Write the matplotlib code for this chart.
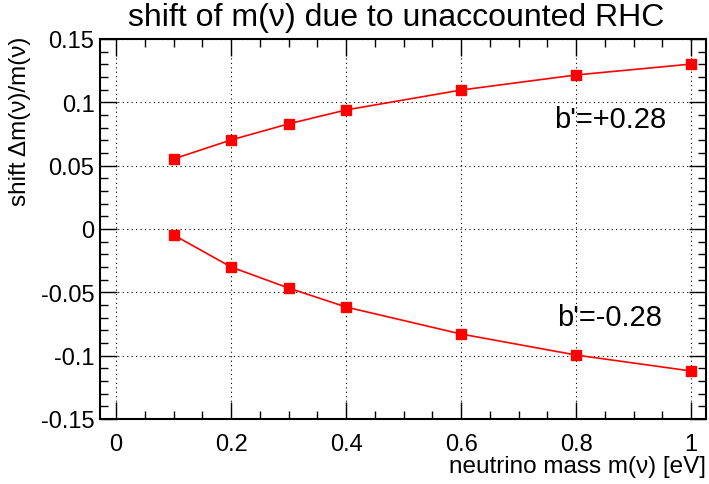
import matplotlib
matplotlib.use("Agg")
import matplotlib.pyplot as plt
from matplotlib.ticker import MultipleLocator

plt.rcParams['font.family'] = ['Liberation Sans', 'DejaVu Sans']

# neutrino mass [eV]
mass = [0.1, 0.2, 0.3, 0.4, 0.6, 0.8, 1.0]
# relative shift for b'=+0.28 and b'=-0.28
shift_pos = [0.0553, 0.0703, 0.0830, 0.0940, 0.1097, 0.1216, 0.1302]
shift_neg = [-0.0047, -0.0300, -0.0466, -0.0616, -0.0829, -0.0995, -0.1121]

fig = plt.figure(figsize=(7.09, 4.85), dpi=100)
ax = fig.add_axes([100/709, 1-420/485, 606/709, 380/485])

ax.plot(mass, shift_pos, color='red', lw=1.2, marker='s', ms=7.5, mec='red', mfc='red')
ax.plot(mass, shift_neg, color='red', lw=1.2, marker='s', ms=7.5, mec='red', mfc='red')

ax.set_xlim(-0.028, 1.026)
ax.set_ylim(-0.15, 0.15)
ax.xaxis.set_minor_locator(MultipleLocator(0.05))
ax.yaxis.set_minor_locator(MultipleLocator(0.01))
ax.set_xticks([0, 0.2, 0.4, 0.6, 0.8, 1.0])
ax.set_xticklabels(['0', '0.2', '0.4', '0.6', '0.8', '1'])
ax.set_yticks([-0.15, -0.1, -0.05, 0, 0.05, 0.1, 0.15])
ax.set_yticklabels(['-0.15', '-0.1', '-0.05', '0', '0.05', '0.1', '0.15'])
ax.tick_params(which='both', direction='in', top=True, right=True, labelsize=17, width=1)
ax.tick_params(which='major', length=12)
ax.tick_params(which='minor', length=6)
ax.tick_params(axis='x', pad=10)
ax.tick_params(axis='y', pad=4)
ax.grid(True, which='major', color='black', linestyle=(0, (1, 3)), lw=0.8)
for s in ax.spines.values():
    s.set_linewidth(1.5)

ax.text(0.859, 0.087, "b'=+0.28", fontsize=21, ha='center', va='center')
ax.text(0.859, -0.0695, "b'=-0.28", fontsize=21, ha='center', va='center')

fig.text(396/709, 1-18/485, "shift of m(ν) due to unaccounted RHC", fontsize=23, ha='center', va='center')
fig.text(706/709, 1-467/485, "neutrino mass m(ν) [eV]", fontsize=17.5, ha='right', va='center')
fig.text(20/709, 1-37/485, "shift Δm(ν)/m(ν)", fontsize=17.5, ha='center', va='top', rotation=90)

fig.savefig("out.png", dpi=100)
